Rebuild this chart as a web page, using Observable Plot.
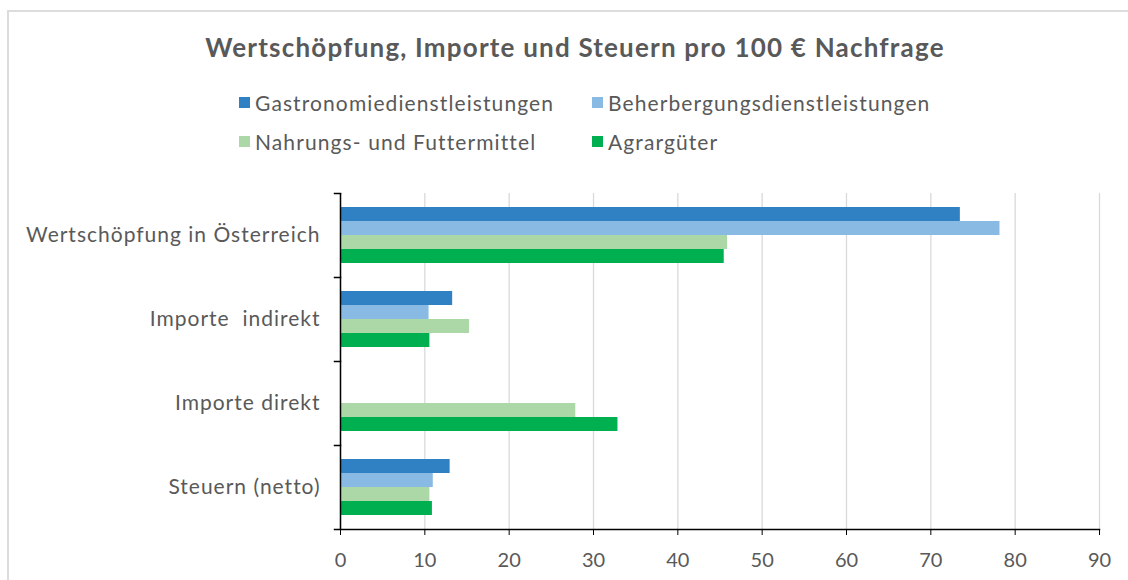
<!DOCTYPE html>
<html><head><meta charset="utf-8">
<script src="https://cdn.jsdelivr.net/npm/d3@7"></script>
<script src="https://cdn.jsdelivr.net/npm/@observablehq/plot@0.6"></script>
<style>
body{margin:0;background:#fff;font-family:Lato,sans-serif;color:#595959}
#wrap{position:relative;width:1128px;height:580px;overflow:hidden}
#border{position:absolute;left:7px;top:10px;width:1200px;height:700px;border:2px solid #dcdcdc}
#title{position:absolute;left:0;width:1150px;top:32px;text-align:center;font-weight:bold;font-size:26px;line-height:30px;letter-spacing:1.2px}
#legend{position:absolute;left:239px;top:83px;display:grid;grid-template-columns:353px auto;grid-auto-rows:39px;font-size:21px;letter-spacing:1.1px}
.item{display:flex;align-items:center}
.sw{width:11px;height:11px;margin-right:5px}
#chart{position:absolute;left:0;top:170px}
#chart text{white-space:pre}
#chart g[aria-label="fy-axis tick label"] text{letter-spacing:1px}
</style></head><body>
<div id="wrap">
<div id="border"></div>
<div id="title">Wertschöpfung, Importe und Steuern pro 100 € Nachfrage</div>
<div id="legend"></div>
<div id="chart"></div>
</div>
<script>
const categories = ["Wertschöpfung in Österreich", "Importe  indirekt", "Importe direkt", "Steuern (netto)"];
const series = ["Gastronomiedienstleistungen", "Beherbergungsdienstleistungen", "Nahrungs- und Futtermittel", "Agrargüter"];
const colors = ["#2F81C3", "#89BAE3", "#ACD8A8", "#00B050"];
const gastronomie = [73.5, 13.3, 0, 13.0];
const beherbergung = [78.2, 10.5, 0, 11.0];
const nahrung = [45.9, 15.3, 27.9, 10.6];
const agrar = [45.5, 10.6, 32.9, 10.9];
const xTicks = [0, 10, 20, 30, 40, 50, 60, 70, 80, 90];

const values = [gastronomie, beherbergung, nahrung, agrar];
const rows = categories.flatMap((c, i) => series.map((s, j) => ({category: c, series: s, value: values[j][i]})));

const legend = document.getElementById("legend");
series.forEach((s, j) => {
  const it = document.createElement("div");
  it.className = "item";
  it.innerHTML = `<span class="sw" style="background:${colors[j]}"></span><span>${s}</span>`;
  legend.appendChild(it);
});

const W = 1128, ML = 340, MR = 29, MT = 21, MB = 53, H = 413;
const plotW = W - ML - MR;

const chart = Plot.plot({
  width: W, height: H,
  marginLeft: ML, marginRight: MR, marginTop: MT, marginBottom: MB,
  style: {fontFamily: "Lato, sans-serif", fontSize: "20px", color: "#595959", background: "transparent"},
  x: {domain: [0, 90], label: null},
  y: {domain: series, paddingInner: 0, paddingOuter: 0.92, axis: null},
  fy: {domain: categories, padding: 0, label: null},
  color: {domain: series, range: colors},
  marks: [
    Plot.gridX(xTicks, {stroke: "#d9d9d9", strokeOpacity: 1, strokeWidth: 1.3}),
    Plot.barX(rows, {x: "value", y: "series", fy: "category", fill: "series"}),
    Plot.ruleX([0], {stroke: "black", strokeWidth: 1.5}),
    Plot.frame({anchor: "top", stroke: "black", strokeWidth: 1.5, insetLeft: -6, insetRight: plotW}),
    Plot.frame({anchor: "bottom", facetAnchor: "bottom", stroke: "black", strokeWidth: 1.5, insetLeft: -6}),
    Plot.axisX(xTicks, {anchor: "bottom", tickSize: 6, tickPadding: 17, stroke: "black", fill: "#595959", fontSize: 20, label: null}),
    Plot.axisFy({anchor: "left", tickSize: 0, tickPadding: 20, fontSize: 21, fill: "#595959", label: null})
  ]
});
document.getElementById("chart").appendChild(chart);
</script>
</body></html>
